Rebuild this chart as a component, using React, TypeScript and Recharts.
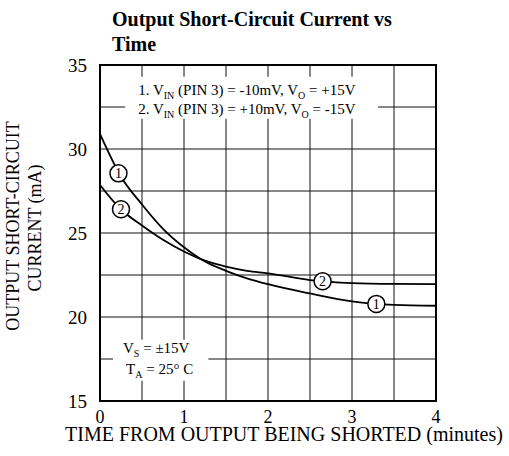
import React from 'react';
import {
  LineChart,
  Line,
  XAxis,
  YAxis,
  CartesianGrid,
  ReferenceArea,
  ReferenceDot,
  Customized,
} from 'recharts';

// Time axis (minutes)
const timeMin = [0, 0.25, 0.5, 0.75, 1, 1.25, 1.5, 1.75, 2, 2.5, 3, 3.5, 4];
// Curve 1: VIN (PIN 3) = -10mV, VO = +15V
const curve1 = [30.9, 28.35, 26.7, 25.25, 24.15, 23.3, 22.75, 22.3, 21.95, 21.4, 20.93, 20.72, 20.67];
// Curve 2: VIN (PIN 3) = +10mV, VO = -15V
const curve2 = [27.86, 26.4, 25.45, 24.6, 23.9, 23.35, 23.0, 22.75, 22.6, 22.2, 22.02, 21.97, 21.96];

// Curve identifier markers
const markers1 = [
  { t: 0.22, v: 28.55 },
  { t: 3.29, v: 20.78 },
];
const markers2 = [
  { t: 0.25, v: 26.41 },
  { t: 2.65, v: 22.13 },
];

const xTicks = [0, 0.5, 1, 1.5, 2, 2.5, 3, 3.5, 4];
const yTicks = [15, 17.5, 20, 22.5, 25, 27.5, 30, 32.5, 35];

const titleLines = ['Output Short-Circuit Current vs', 'Time'];
const xAxisTitle = 'TIME FROM OUTPUT BEING SHORTED (minutes)';
const yAxisTitleLines = ['OUTPUT SHORT-CIRCUIT', 'CURRENT (mA)'];

const data = timeMin.map((t, i) => ({ t, c1: curve1[i], c2: curve2[i] }));

const FONT = "'Liberation Serif', 'Times New Roman', Times, serif";

const TopLegend = (props: any) => {
  const vb = props.viewBox || {};
  const x = vb.x + 13;
  const y1 = vb.y + 18;
  const y2 = vb.y + 37;
  return (
    <g fontFamily={FONT} fontSize={15} fill="#000">
      <text x={x} y={y1} fill="#000">
        <tspan>1. V</tspan>
        <tspan fontSize={10} dy={4}>IN</tspan>
        <tspan dy={-4}> (PIN 3) = -10mV, V</tspan>
        <tspan fontSize={10} dy={4}>O</tspan>
        <tspan dy={-4}> = +15V</tspan>
      </text>
      <text x={x} y={y2} fill="#000">
        <tspan>2. V</tspan>
        <tspan fontSize={10} dy={4}>IN</tspan>
        <tspan dy={-4}> (PIN 3) = +10mV, V</tspan>
        <tspan fontSize={10} dy={4}>O</tspan>
        <tspan dy={-4}> = -15V</tspan>
      </text>
    </g>
  );
};

const BottomLegend = (props: any) => {
  const vb = props.viewBox || {};
  return (
    <g fontFamily={FONT} fontSize={15} fill="#000">
      <text x={vb.x + 10} y={vb.y + 13} fill="#000">
        <tspan>V</tspan>
        <tspan fontSize={10} dy={4}>S</tspan>
        <tspan dy={-4}> = ±15V</tspan>
      </text>
      <text x={vb.x + 13} y={vb.y + 34} fill="#000">
        <tspan>T</tspan>
        <tspan fontSize={10} dy={4}>A</tspan>
        <tspan dy={-4}> = 25° C</tspan>
      </text>
    </g>
  );
};

const Titles = () => (
  <g fontFamily={FONT} fill="#000">
    <text x={112} y={26} fontSize={20} fontWeight="bold" fill="#000">
      {titleLines[0]}
    </text>
    <text x={112} y={51} fontSize={20} fontWeight="bold" fill="#000">
      {titleLines[1]}
    </text>
    <text x={284} y={441} fontSize={20} textAnchor="middle" fill="#000">
      {xAxisTitle}
    </text>
    <text
      x={0}
      y={0}
      fontSize={18}
      textAnchor="middle"
      fill="#000"
      transform="translate(19, 226) rotate(-90)"
    >
      {yAxisTitleLines[0]}
    </text>
    <text
      x={0}
      y={0}
      fontSize={18}
      textAnchor="middle"
      fill="#000"
      transform="translate(41, 228) rotate(-90)"
    >
      {yAxisTitleLines[1]}
    </text>
  </g>
);

const tickStyle = { fill: '#000', fontSize: 18, fontFamily: FONT };

export default function App() {
  return (
    <div style={{ position: 'absolute', left: 0, top: 0, fontFamily: FONT }}>
      <LineChart
        width={509}
        height={456}
        data={data}
        margin={{ top: 65, right: 73, bottom: 25, left: 40 }}
      >
        <CartesianGrid stroke="#111" strokeWidth={1} />
        <XAxis
          dataKey="t"
          type="number"
          domain={[0, 4]}
          ticks={xTicks}
          interval={0}
          height={30}
          tickLine={false}
          axisLine={false}
          tickSize={0}
          tickMargin={9}
          tick={tickStyle}
          tickFormatter={(v: number) => (Number.isInteger(v) ? String(v) : '')}
        />
        <YAxis
          type="number"
          domain={[15, 35]}
          ticks={yTicks}
          interval={0}
          width={60}
          tickLine={false}
          axisLine={false}
          tickSize={0}
          tickMargin={13}
          tick={{ ...tickStyle, fontSize: 19 }}
          tickFormatter={(v: number) => (v % 5 === 0 ? String(v) : '')}
        />
        <ReferenceArea
          x1={0.3}
          x2={3.31}
          y1={31.8}
          y2={34.3}
          fill="#fff"
          fillOpacity={1}
          stroke="none"
          label={(p: any) => <TopLegend viewBox={p.viewBox} />}
        />
        <ReferenceArea
          x1={0.155}
          x2={1.29}
          y1={16.2}
          y2={18.65}
          fill="#fff"
          fillOpacity={1}
          stroke="none"
          label={(p: any) => <BottomLegend viewBox={p.viewBox} />}
        />
        <ReferenceArea
          x1={0}
          x2={4}
          y1={15}
          y2={35}
          fill="none"
          stroke="#000"
          strokeWidth={2}
        />
        <Line
          type="monotone"
          dataKey="c1"
          stroke="#000"
          strokeWidth={1.8}
          dot={false}
          activeDot={false}
          isAnimationActive={false}
        />
        <Line
          type="monotone"
          dataKey="c2"
          stroke="#000"
          strokeWidth={1.8}
          dot={false}
          activeDot={false}
          isAnimationActive={false}
        />
        {markers1.map((m, i) => (
          <ReferenceDot
            key={'m1' + i}
            x={m.t}
            y={m.v}
            r={8.5}
            fill="#fff"
            stroke="#000"
            strokeWidth={1.5}
            label={{ value: '1', position: 'center', fontSize: 14, fill: '#000', fontFamily: FONT }}
          />
        ))}
        {markers2.map((m, i) => (
          <ReferenceDot
            key={'m2' + i}
            x={m.t}
            y={m.v}
            r={8.5}
            fill="#fff"
            stroke="#000"
            strokeWidth={1.5}
            label={{ value: '2', position: 'center', fontSize: 14, fill: '#000', fontFamily: FONT }}
          />
        ))}
        <Customized component={Titles} />
      </LineChart>
    </div>
  );
}
